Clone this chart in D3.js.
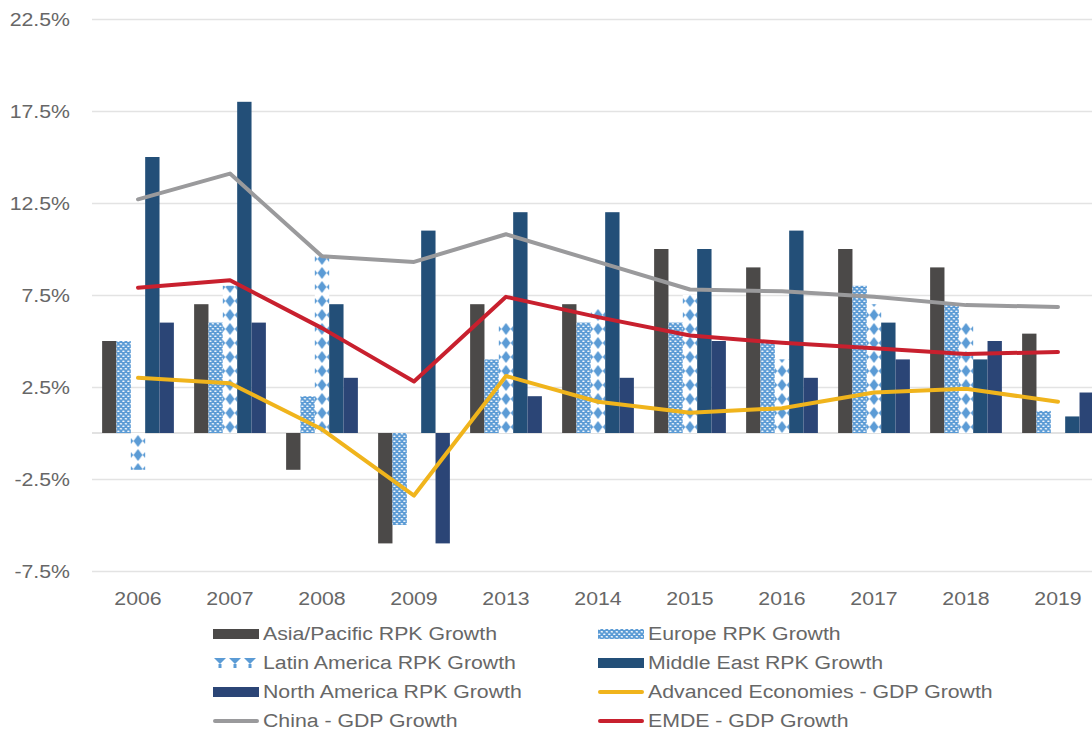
<!DOCTYPE html>
<html lang="en">
<head>
    <meta charset="UTF-8">
    <title>RPK vs GDP Growth | D3</title>
    <style>
        body { margin: 0; background: #fff; }
        text { font-family: "Liberation Sans", Arial, sans-serif; fill: #676767; }
    </style>
</head>
<body>
    <div id="chart"></div>

    <script src="https://d3js.org/d3.v7.min.js"></script>
    <script>
        // Data.
        var years = ["2006", "2007", "2008", "2009", "2013", "2014", "2015", "2016", "2017", "2018", "2019"];
        var asiaPacific  = [5.0, 7.0, -2.0, -6.0, 7.0, 7.0, 10.0, 9.0, 10.0, 9.0, 5.4];
        var europe       = [5.0, 6.0, 2.0, -5.0, 4.0, 6.0, 6.0, 5.0, 8.0, 7.0, 1.2];
        var latinAmerica = [-2.0, 8.0, 9.7, 0, 6.0, 6.8, 7.5, 4.0, 7.0, 6.0, 0];
        var middleEast   = [15.0, 18.0, 7.0, 11.0, 12.0, 12.0, 10.0, 11.0, 6.0, 4.0, 0.9];
        var northAmerica = [6.0, 6.0, 3.0, -6.0, 2.0, 3.0, 5.0, 3.0, 4.0, 5.0, 2.2];
        var advancedGdp  = [3.0, 2.7, 0.2, -3.4, 3.1, 1.7, 1.1, 1.35, 2.2, 2.4, 1.7];
        var chinaGdp     = [12.7, 14.1, 9.6, 9.3, 10.8, 9.3, 7.8, 7.7, 7.4, 6.95, 6.85];
        var emdeGdp      = [7.9, 8.3, 5.7, 2.8, 7.4, 6.3, 5.3, 4.9, 4.6, 4.3, 4.4];
        var yTicks = [-7.5, -2.5, 2.5, 7.5, 12.5, 17.5, 22.5];

        var barSeries = [
            { name: "Asia/Pacific RPK Growth", values: asiaPacific, fill: "#4b4948" },
            { name: "Europe RPK Growth", values: europe, fill: "url(#dots)" },
            { name: "Latin America RPK Growth", values: latinAmerica, fill: "url(#diamonds)" },
            { name: "Middle East RPK Growth", values: middleEast, fill: "#234f78" },
            { name: "North America RPK Growth", values: northAmerica, fill: "#2b4576" }
        ];
        var lineSeries = [
            { name: "Advanced Economies - GDP Growth", values: advancedGdp, color: "#f0b41c" },
            { name: "China - GDP Growth", values: chinaGdp, color: "#9a9a9c" },
            { name: "EMDE - GDP Growth", values: emdeGdp, color: "#c8202e" }
        ];

        var width = 1092, height = 733;
        var plotLeft = 92, plotRight = 1104;
        var stretch = 1.12; // the source font runs a bit wide

        var svg = d3.select("#chart").append("svg")
            .attr("width", width)
            .attr("height", height);

        // Scales.
        var x = d3.scaleBand()
            .domain(years)
            .range([plotLeft, plotRight])
            .paddingInner(0.22)
            .paddingOuter(0.11);

        var xInner = d3.scaleBand()
            .domain(barSeries.map(function(s) { return s.name; }))
            .range([0, x.bandwidth()]);

        var y = d3.scaleLinear()
            .domain([-7.5, 22.5])
            .range([571, 19]);

        // Patterns for Europe and Latin America.
        var defs = svg.append("defs");
        var dots = defs.append("pattern")
            .attr("id", "dots")
            .attr("patternUnits", "userSpaceOnUse")
            .attr("width", 5).attr("height", 5);
        dots.append("rect").attr("width", 5).attr("height", 5).attr("fill", "#5b9bd5");
        dots.append("ellipse").attr("cx", 1.3).attr("cy", 1.3).attr("rx", 1.3).attr("ry", 0.8).attr("fill", "#fff");
        dots.append("ellipse").attr("cx", 3.8).attr("cy", 3.8).attr("rx", 1.3).attr("ry", 0.8).attr("fill", "#fff");

        // Bars sit in translated groups, so the tile is placed in group coordinates.
        var bw = xInner.bandwidth();
        var diamonds = defs.append("pattern")
            .attr("id", "diamonds")
            .attr("patternUnits", "userSpaceOnUse")
            .attr("x", xInner(barSeries[2].name)).attr("y", 0)
            .attr("width", bw).attr("height", 14);
        diamonds.append("rect").attr("width", bw).attr("height", 14).attr("fill", "#fff");
        diamonds.append("path")
            .attr("d", "M" + (bw / 2) + ",1L" + (bw / 2 + 4.5) + ",7L" + (bw / 2) + ",13L" + (bw / 2 - 4.5) + ",7Z")
            .attr("fill", "#5b9bd5");
        diamonds.append("path")
            .attr("d", "M0,4L2.5,7L0,10Z M" + bw + ",4L" + (bw - 2.5) + ",7L" + bw + ",10Z")
            .attr("fill", "#5b9bd5");

        // Y axis with grid lines.
        var yAxis = d3.axisLeft(y)
            .tickValues(yTicks)
            .tickFormat(function(d) { return d3.format(".1f")(d).replace("\u2212", "-") + "%"; })
            .tickSize(-(width - plotLeft))
            .tickPadding(22);

        var yAxisGroup = svg.append("g")
            .attr("transform", "translate(" + plotLeft + ",0)")
            .call(yAxis);
        yAxisGroup.select(".domain").remove();
        yAxisGroup.selectAll("line").attr("stroke", "#e3e3e3").attr("stroke-width", 1.5);
        yAxisGroup.selectAll("text")
            .style("font-size", "19px")
            .attr("fill", "#676767")
            .attr("x", -22 / stretch)
            .attr("transform", "scale(" + stretch + ",1)");

        // Zero line.
        svg.append("line")
            .attr("x1", plotLeft).attr("x2", width)
            .attr("y1", y(0)).attr("y2", y(0))
            .attr("stroke", "#d9d9d9").attr("stroke-width", 1.5);

        // X axis labels.
        var xAxis = d3.axisBottom(x).tickSize(0).tickPadding(0);
        var xAxisGroup = svg.append("g")
            .attr("transform", "translate(0,592)")
            .call(xAxis);
        xAxisGroup.select(".domain").remove();
        xAxisGroup.selectAll("text")
            .style("font-size", "19px")
            .attr("fill", "#676767")
            .attr("transform", "scale(" + stretch + ",1)");

        // Bars.
        var groups = svg.append("g").attr("class", "bars")
            .selectAll("g")
            .data(years)
            .enter().append("g")
            .attr("transform", function(d) { return "translate(" + x(d) + ",0)"; });

        groups.selectAll("rect")
            .data(function(d, i) {
                return barSeries.map(function(s) { return { name: s.name, value: s.values[i], fill: s.fill, year: d }; });
            })
            .enter().append("rect")
            .attr("x", function(d) { return xInner(d.name); })
            .attr("y", function(d) { return y(Math.max(0, d.value)); })
            .attr("width", xInner.bandwidth())
            .attr("height", function(d) { return Math.abs(y(d.value) - y(0)); })
            .attr("fill", function(d) { return d.fill; });

        // Lines.
        var line = d3.line()
            .x(function(d, i) { return x(years[i]) + x.bandwidth() / 2; })
            .y(function(d) { return y(d); });

        svg.append("g").attr("class", "lines")
            .selectAll("path")
            .data(lineSeries)
            .enter().append("path")
            .attr("d", function(d) { return line(d.values); })
            .attr("fill", "none")
            .attr("stroke", function(d) { return d.color; })
            .attr("stroke-width", 4)
            .attr("stroke-linejoin", "round")
            .attr("stroke-linecap", "round");

        // Legend, two columns.
        var legendItems = [
            { name: barSeries[0].name, kind: "bar", fill: barSeries[0].fill },
            { name: barSeries[1].name, kind: "bar", fill: barSeries[1].fill },
            { name: barSeries[2].name, kind: "latin" },
            { name: barSeries[3].name, kind: "bar", fill: barSeries[3].fill },
            { name: barSeries[4].name, kind: "bar", fill: barSeries[4].fill },
            { name: lineSeries[0].name, kind: "line", color: lineSeries[0].color },
            { name: lineSeries[1].name, kind: "line", color: lineSeries[1].color },
            { name: lineSeries[2].name, kind: "line", color: lineSeries[2].color }
        ];
        var colX = [213, 598], rowY = [633, 662, 691, 720];

        var legend = svg.append("g").attr("class", "legend")
            .selectAll("g")
            .data(legendItems)
            .enter().append("g")
            .attr("transform", function(d, i) {
                return "translate(" + colX[i % 2] + "," + rowY[Math.floor(i / 2)] + ")";
            });

        legend.each(function(d) {
            var g = d3.select(this);
            if (d.kind === "bar") {
                g.append("rect").attr("x", 0).attr("y", -4).attr("width", 46).attr("height", 10).attr("fill", d.fill);
            } else if (d.kind === "line") {
                g.append("line").attr("x1", 2).attr("x2", 44).attr("y1", 1).attr("y2", 1)
                    .attr("stroke", d.color).attr("stroke-width", 4).attr("stroke-linecap", "round");
            } else {
                [0, 15, 30].forEach(function(dx) {
                    g.append("path")
                        .attr("d", "M" + (dx + 1) + ",-4L" + (dx + 13) + ",-4L" + (dx + 7) + ",2Z")
                        .attr("fill", "#5b9bd5");
                    g.append("rect").attr("x", dx + 5.5).attr("y", 2).attr("width", 3).attr("height", 4).attr("fill", "#5b9bd5");
                });
            }
            g.append("text")
                .attr("x", 50 / stretch)
                .attr("dy", "0.35em")
                .attr("transform", "scale(" + stretch + ",1)")
                .style("font-size", "19px")
                .text(d.name);
        });
    </script>
</body>
</html>
